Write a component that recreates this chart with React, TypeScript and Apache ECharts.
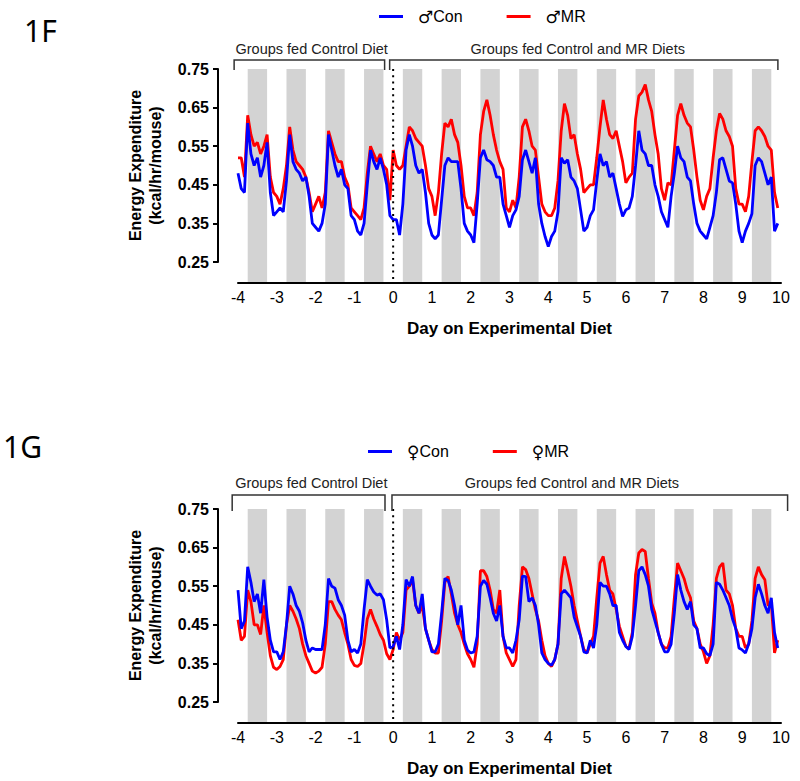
import React, { useEffect, useRef } from "react";
import * as echarts from "echarts";

// ---------- data ----------
const START_DAY = -4;
const STEP_DAYS = 1 / 12; // 2-hour bins
const X_MIN = -4;
const X_MAX = 10;
const Y_MIN = 0.25;
const Y_MAX = 0.75;
const Y_STEP = 0.1;
const DIET_SWITCH_DAY = 0;

const DARK_PERIODS: number[][] = [
  [-3.75, -3.25], [-2.75, -2.25], [-1.75, -1.25], [-0.75, -0.25],
  [0.25, 0.75], [1.25, 1.75], [2.25, 2.75], [3.25, 3.75], [4.25, 4.75],
  [5.25, 5.75], [6.25, 6.75], [7.25, 7.75], [8.25, 8.75], [9.25, 9.75],
];

const MALE_NAMES = ["♂Con", "♂MR"];
const FEMALE_NAMES = ["♀Con", "♀MR"];
const PANEL_LABELS = ["1F", "1G"];
const BRACKET_TEXTS = ["Groups fed Control Diet", "Groups fed Control and MR Diets"];
// [start day, end day, label day]
const BRACKETS_F: number[][] = [[-4.1, -0.22, -2.1], [-0.09, 9.92, 4.76]];
const BRACKETS_G: number[][] = [[-4.15, -0.21, -2.11], [-0.03, 10.17, 4.61]];
const X_AXIS_TITLE = "Day on Experimental Diet";
const Y_AXIS_TITLE = "Energy Expenditure\n(kcal/hr/mouse)";

// Male, Control diet (blue)
const F_CON = [
  0.48, 0.44, 0.43, 0.61, 0.53, 0.50, 0.52, 0.47, 0.50, 0.56, 0.43, 0.37,
  0.38, 0.39, 0.38, 0.46, 0.58, 0.51, 0.49, 0.48, 0.46, 0.47, 0.42, 0.35,
  0.34, 0.33, 0.35, 0.40, 0.58, 0.54, 0.50, 0.47, 0.49, 0.45, 0.44, 0.37,
  0.36, 0.33, 0.32, 0.35, 0.45, 0.54, 0.51, 0.49, 0.52, 0.49, 0.45, 0.37,
  0.36, 0.36, 0.32, 0.40, 0.54, 0.58, 0.55, 0.50, 0.48, 0.49, 0.43, 0.35,
  0.32, 0.31, 0.32, 0.41, 0.50, 0.52, 0.51, 0.51, 0.51, 0.44, 0.35, 0.33,
  0.32, 0.30, 0.40, 0.52, 0.54, 0.515, 0.51, 0.50, 0.47, 0.47, 0.40, 0.37,
  0.34, 0.37, 0.385, 0.42, 0.515, 0.54, 0.51, 0.48, 0.52, 0.40, 0.35, 0.316,
  0.29, 0.316, 0.33, 0.38, 0.52, 0.506, 0.515, 0.47, 0.46, 0.44, 0.385, 0.33,
  0.34, 0.37, 0.385, 0.46, 0.53, 0.50, 0.51, 0.47, 0.48, 0.44, 0.40, 0.368,
  0.385, 0.39, 0.42, 0.50, 0.59, 0.54, 0.53, 0.50, 0.50, 0.45, 0.42, 0.38,
  0.36, 0.34, 0.42, 0.48, 0.55, 0.52, 0.51, 0.47, 0.46, 0.40, 0.35, 0.33,
  0.32, 0.31, 0.34, 0.37, 0.43, 0.515, 0.52, 0.49, 0.46, 0.455, 0.40, 0.33,
  0.30, 0.33, 0.35, 0.375, 0.50, 0.52, 0.51, 0.48, 0.45, 0.47, 0.33, 0.35,
];

// Male, MR diet (red)
const F_MR = [
  0.52, 0.52, 0.47, 0.63, 0.58, 0.55, 0.56, 0.53, 0.55, 0.58, 0.47, 0.43,
  0.42, 0.40, 0.44, 0.50, 0.60, 0.54, 0.51, 0.50, 0.49, 0.47, 0.43, 0.38,
  0.40, 0.42, 0.39, 0.43, 0.59, 0.56, 0.53, 0.51, 0.51, 0.47, 0.45, 0.39,
  0.38, 0.37, 0.36, 0.39, 0.48, 0.55, 0.53, 0.51, 0.53, 0.50, 0.49, 0.41,
  0.54, 0.50, 0.49, 0.50, 0.55, 0.60, 0.59, 0.57, 0.56, 0.55, 0.50, 0.44,
  0.42, 0.37, 0.43, 0.53, 0.61, 0.60, 0.62, 0.58, 0.56, 0.50, 0.42, 0.39,
  0.39, 0.37, 0.43, 0.58, 0.64, 0.67, 0.63, 0.58, 0.54, 0.51, 0.49, 0.39,
  0.38, 0.41, 0.39, 0.47, 0.60, 0.62, 0.59, 0.55, 0.54, 0.47, 0.40, 0.38,
  0.37, 0.37, 0.39, 0.46, 0.59, 0.66, 0.63, 0.57, 0.58, 0.53, 0.49, 0.43,
  0.44, 0.45, 0.45, 0.52, 0.60, 0.67, 0.62, 0.58, 0.57, 0.59, 0.55, 0.51,
  0.455, 0.47, 0.48, 0.62, 0.68, 0.69, 0.71, 0.67, 0.64, 0.58, 0.53, 0.44,
  0.41, 0.455, 0.45, 0.54, 0.63, 0.66, 0.63, 0.61, 0.60, 0.54, 0.47, 0.41,
  0.385, 0.42, 0.44, 0.52, 0.59, 0.635, 0.62, 0.59, 0.575, 0.55, 0.44, 0.40,
  0.40, 0.38, 0.42, 0.51, 0.59, 0.60, 0.59, 0.575, 0.55, 0.54, 0.43, 0.39,
];

// Female, Control diet (blue)
const G_CON = [
  0.54, 0.44, 0.46, 0.60, 0.56, 0.51, 0.53, 0.48, 0.567, 0.47, 0.41, 0.38,
  0.38, 0.36, 0.38, 0.45, 0.55, 0.53, 0.50, 0.485, 0.455, 0.41, 0.38, 0.39,
  0.386, 0.386, 0.386, 0.45, 0.57, 0.55, 0.545, 0.515, 0.50, 0.475, 0.41, 0.38,
  0.386, 0.377, 0.40, 0.49, 0.567, 0.55, 0.535, 0.527, 0.53, 0.515, 0.463, 0.39,
  0.394, 0.42, 0.386, 0.45, 0.567, 0.55, 0.575, 0.50, 0.48, 0.53, 0.44, 0.41,
  0.38, 0.38, 0.40, 0.48, 0.57, 0.565, 0.54, 0.50, 0.45, 0.50, 0.41, 0.385,
  0.377, 0.38, 0.42, 0.55, 0.565, 0.555, 0.52, 0.48, 0.46, 0.50, 0.42, 0.39,
  0.39, 0.377, 0.41, 0.463, 0.576, 0.575, 0.51, 0.52, 0.50, 0.45, 0.377, 0.36,
  0.35, 0.345, 0.36, 0.40, 0.53, 0.54, 0.53, 0.52, 0.47, 0.445, 0.42, 0.38,
  0.377, 0.41, 0.39, 0.45, 0.56, 0.55, 0.55, 0.53, 0.50, 0.50, 0.43, 0.41,
  0.394, 0.386, 0.42, 0.50, 0.59, 0.60, 0.58, 0.55, 0.49, 0.46, 0.43, 0.40,
  0.38, 0.38, 0.40, 0.48, 0.58, 0.54, 0.51, 0.49, 0.51, 0.45, 0.44, 0.39,
  0.39, 0.375, 0.37, 0.40, 0.56, 0.555, 0.54, 0.52, 0.50, 0.465, 0.44, 0.39,
  0.385, 0.377, 0.40, 0.44, 0.52, 0.555, 0.53, 0.50, 0.48, 0.52, 0.43, 0.39,
];

// Female, MR diet (red)
const G_MR = [
  0.463, 0.41, 0.42, 0.54, 0.51, 0.45, 0.45, 0.425, 0.50, 0.43, 0.37, 0.34,
  0.334, 0.342, 0.36, 0.45, 0.50, 0.485, 0.465, 0.44, 0.40, 0.37, 0.35, 0.33,
  0.325, 0.33, 0.34, 0.40, 0.51, 0.51, 0.49, 0.475, 0.463, 0.43, 0.40, 0.36,
  0.345, 0.342, 0.35, 0.40, 0.465, 0.49, 0.465, 0.446, 0.425, 0.41, 0.375, 0.36,
  0.386, 0.43, 0.41, 0.43, 0.54, 0.55, 0.565, 0.50, 0.48, 0.50, 0.44, 0.41,
  0.386, 0.377, 0.377, 0.46, 0.56, 0.575, 0.53, 0.48, 0.45, 0.43, 0.40, 0.375,
  0.36, 0.34, 0.40, 0.59, 0.59, 0.575, 0.54, 0.49, 0.48, 0.54, 0.42, 0.377,
  0.36, 0.342, 0.36, 0.50, 0.60, 0.593, 0.57, 0.53, 0.49, 0.46, 0.41, 0.37,
  0.35, 0.342, 0.36, 0.40, 0.57, 0.627, 0.59, 0.55, 0.50, 0.46, 0.42, 0.386,
  0.377, 0.40, 0.42, 0.52, 0.61, 0.627, 0.58, 0.54, 0.53, 0.49, 0.446, 0.42,
  0.394, 0.39, 0.43, 0.58, 0.636, 0.645, 0.64, 0.57, 0.506, 0.48, 0.43, 0.40,
  0.39, 0.39, 0.42, 0.52, 0.61, 0.59, 0.57, 0.54, 0.52, 0.46, 0.44, 0.40,
  0.38, 0.35, 0.37, 0.45, 0.57, 0.60, 0.61, 0.54, 0.53, 0.50, 0.44, 0.42,
  0.42, 0.39, 0.40, 0.46, 0.57, 0.60, 0.58, 0.567, 0.50, 0.506, 0.377, 0.41,
];

// ---------- styles ----------
const FONT = '"Liberation Sans", Arial, sans-serif';
const BLUE = "#0000ff";
const RED = "#ff0000";
const BAND_COLOR = "#d3d3d3";
const AXIS_OFFSET_X = 21;
const AXIS_OFFSET_Y = 20;

interface Panel {
  top: number;
  names: string[];
  con: number[];
  mr: number[];
  brackets: number[][];
  bracketRise: number;
  bracketDrop: number;
  bracketTextRise: number;
  legendLeft: number;
  legendTop: number;
  label: string;
  labelX: number;
  labelY: number;
}

const PANELS: Panel[] = [
  {
    top: 69, names: MALE_NAMES, con: F_CON, mr: F_MR, brackets: BRACKETS_F,
    bracketRise: 9, bracketDrop: 1, bracketTextRise: 20,
    legendLeft: 374, legendTop: 3, label: PANEL_LABELS[0], labelX: 24, labelY: 30,
  },
  {
    top: 509, names: FEMALE_NAMES, con: G_CON, mr: G_MR, brackets: BRACKETS_G,
    bracketRise: 14, bracketDrop: 2, bracketTextRise: 26,
    legendLeft: 363, legendTop: 438, label: PANEL_LABELS[1], labelX: 3, labelY: 446,
  },
];

function toXY(values: number[]) {
  return values.map((v, i) => [START_DAY + i * STEP_DAYS, v]);
}

function buildOption() {
  const grid: any[] = [];
  const xAxis: any[] = [];
  const yAxis: any[] = [];
  const series: any[] = [];
  const legend: any[] = [];
  const graphic: any[] = [];

  PANELS.forEach((p, idx) => {
    grid.push({ left: 238, top: p.top, width: 543, height: 193 });
    xAxis.push({
      type: "value", gridIndex: idx, min: X_MIN, max: X_MAX, interval: 1,
      offset: AXIS_OFFSET_X,
      axisLine: { show: true, onZero: false, lineStyle: { color: "#000", width: 2 } },
      axisTick: { show: false },
      splitLine: { show: false },
      axisLabel: { color: "#000", fontSize: 16, margin: 6, fontFamily: FONT, showMinLabel: true, showMaxLabel: true },
      name: X_AXIS_TITLE, nameLocation: "middle", nameGap: 37,
      nameTextStyle: { color: "#000", fontWeight: "bold", fontSize: 17, fontFamily: FONT },
    });
    yAxis.push({
      type: "value", gridIndex: idx, min: Y_MIN, max: Y_MAX, interval: Y_STEP,
      offset: AXIS_OFFSET_Y,
      axisLine: { show: true, onZero: false, lineStyle: { color: "#000", width: 2 } },
      axisTick: { show: true, length: 5, lineStyle: { color: "#000", width: 2 } },
      splitLine: { show: false },
      axisLabel: {
        color: "#000", fontSize: 16, fontWeight: "bold", margin: 9, fontFamily: FONT,
        formatter: (v: number) => v.toFixed(2),
      },
      name: Y_AXIS_TITLE, nameLocation: "middle", nameGap: 53,
      nameTextStyle: { color: "#000", fontWeight: "bold", fontSize: 16, lineHeight: 20, fontFamily: FONT },
    });

    // dark-period bands
    series.push({
      type: "custom", xAxisIndex: idx, yAxisIndex: idx, data: DARK_PERIODS, clip: false,
      silent: true, z: 1,
      renderItem: (_params: any, api: any) => {
        const a = api.coord([api.value(0), Y_MAX]);
        const b = api.coord([api.value(1), Y_MIN]);
        return {
          type: "rect",
          shape: { x: a[0], y: a[1], width: b[0] - a[0], height: b[1] - a[1] + AXIS_OFFSET_X - 1 },
          style: { fill: BAND_COLOR },
        };
      },
    });

    // MR (red) then Con (blue) on top
    series.push({
      type: "line", name: p.names[1], xAxisIndex: idx, yAxisIndex: idx,
      data: toXY(p.mr), showSymbol: false, symbol: "none", color: RED,
      lineStyle: { color: RED, width: 2.8 }, z: 2,
    });
    series.push({
      type: "line", name: p.names[0], xAxisIndex: idx, yAxisIndex: idx,
      data: toXY(p.con), showSymbol: false, symbol: "none", color: BLUE,
      lineStyle: { color: BLUE, width: 2.8 }, z: 3,
    });

    // dotted diet-switch line
    series.push({
      type: "custom", xAxisIndex: idx, yAxisIndex: idx, data: [[DIET_SWITCH_DAY, Y_MAX]],
      clip: false, silent: true, z: 4,
      renderItem: (_params: any, api: any) => {
        const a = api.coord([api.value(0), Y_MAX]);
        const b = api.coord([api.value(0), Y_MIN]);
        return {
          type: "line",
          shape: { x1: a[0], y1: a[1], x2: b[0], y2: b[1] + AXIS_OFFSET_X - 1 },
          style: { stroke: "#000", lineWidth: 2, lineDash: [2, 4.3] },
        };
      },
    });

    // brackets with labels
    series.push({
      type: "custom", xAxisIndex: idx, yAxisIndex: idx, data: p.brackets,
      clip: false, silent: true, z: 4,
      renderItem: (params: any, api: any) => {
        const l = api.coord([api.value(0), Y_MAX]);
        const r = api.coord([api.value(1), Y_MAX]);
        const c = api.coord([api.value(2), Y_MAX]);
        const yLine = l[1] - p.bracketRise;
        const yEnd = l[1] + p.bracketDrop;
        return {
          type: "group",
          children: [
            {
              type: "polyline",
              shape: { points: [[l[0], yEnd], [l[0], yLine], [r[0], yLine], [r[0], yEnd]] },
              style: { stroke: "#333", lineWidth: 1.5, fill: null },
            },
            {
              type: "text",
              style: {
                text: BRACKET_TEXTS[params.dataIndex],
                x: c[0], y: l[1] - p.bracketTextRise,
                align: "center", verticalAlign: "middle",
                fontSize: 14.5, fontFamily: FONT, fill: "#222",
              },
            },
          ],
        };
      },
    });

    legend.push({
      data: [p.names[0], p.names[1]],
      left: p.legendLeft, top: p.legendTop, icon: "rect",
      itemWidth: 24, itemHeight: 3, itemGap: 44,
      formatter: (name: string) => `{s|${name.charAt(0)}}${name.slice(1)}`,
      textStyle: {
        color: "#000", fontSize: 16, fontFamily: FONT, padding: [0, 0, 0, 10],
        rich: { s: { fontFamily: '"DejaVu Sans", sans-serif', fontSize: 17, color: "#000" } },
      },
    });

    graphic.push({
      type: "text", x: p.labelX, y: p.labelY, silent: true,
      style: {
        text: p.label, fontSize: 30, fontFamily: '"Noto Sans", sans-serif',
        fill: "#000", verticalAlign: "middle",
      },
    });
  });

  return {
    animation: false,
    backgroundColor: "#fff",
    textStyle: { fontFamily: FONT },
    grid, xAxis, yAxis, series, legend, graphic,
  };
}

export default function App() {
  const ref = useRef<HTMLDivElement>(null);
  useEffect(() => {
    if (!ref.current) return;
    const chart = echarts.init(ref.current, null, { renderer: "svg" });
    chart.setOption(buildOption());
    return () => chart.dispose();
  }, []);
  return (
    <div
      ref={ref}
      style={{ position: "absolute", left: 0, top: 0, width: 800, height: 781, background: "#fff" }}
    />
  );
}
